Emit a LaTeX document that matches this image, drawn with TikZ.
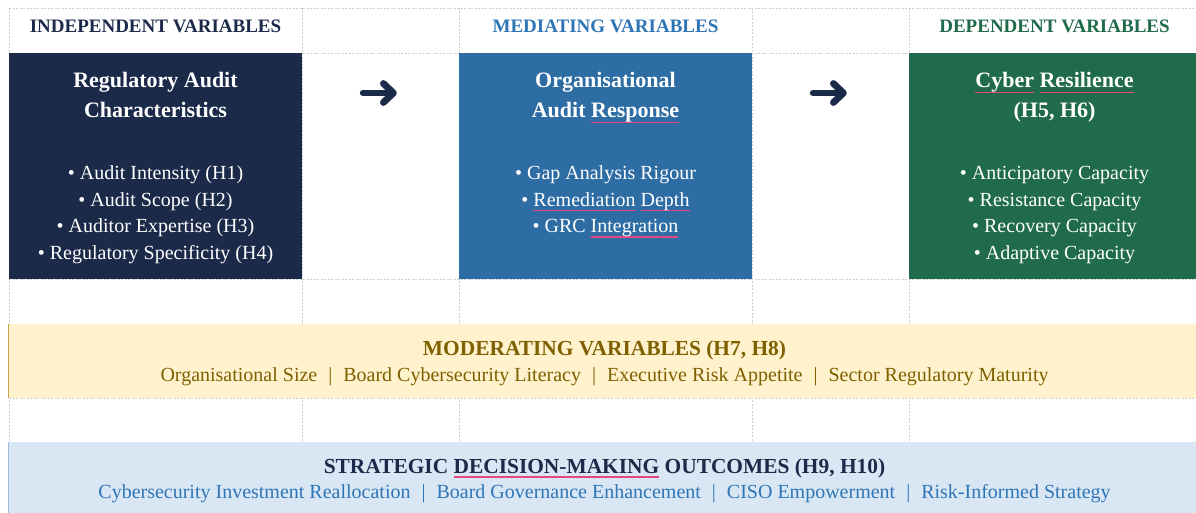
\documentclass[tikz,border=0pt]{standalone}
\usepackage{fontspec}
\setmainfont{Liberation Serif}
\usetikzlibrary{arrows.meta,positioning}

\definecolor{navy}{HTML}{1C2A4A}
\definecolor{medblue}{HTML}{2E6DA4}
\definecolor{depgreen}{HTML}{1F6B4B}
\definecolor{headblue}{HTML}{2E75B6}
\definecolor{modfill}{HTML}{FFF2CC}
\definecolor{modtext}{HTML}{7F6000}
\definecolor{modedge}{HTML}{C9A54A}
\definecolor{outfill}{HTML}{D9E7F5}
\definecolor{outedge}{HTML}{9DBBD9}
\definecolor{gridgray}{HTML}{CFCFCF}
\definecolor{spellpink}{HTML}{E8467C}

% red squiggle under flagged words
\newsavebox\spellbox
\newcommand\spellmark[1]{\sbox\spellbox{#1}%
  \tikz[overlay,baseline=0pt]\fill[spellpink] (0pt,-0.16em) rectangle (\wd\spellbox,-0.23em);%
  \usebox\spellbox}
\newcommand\barsep{\hspace{0.55em}|\hspace{0.55em}}

\tikzset{
  gridline/.style={gridgray, line width=0.7pt, dash pattern=on 2pt off 1.5pt},
  panel/.style={rectangle, inner sep=0pt, minimum height=226pt},
  colhead/.style={anchor=base, font=\fontsize{19}{22}\selectfont\bfseries},
  ptitle/.style={anchor=base, text=white, font=\fontsize{22}{26}\selectfont\bfseries},
  pitem/.style={anchor=base, text=white, font=\fontsize{20}{24}\selectfont},
  band/.style={rectangle, inner sep=0pt, minimum width=1191pt},
  btitle/.style={anchor=base, font=\fontsize{21.4}{24}\selectfont\bfseries},
  bitem/.style={anchor=base, font=\fontsize{20}{24}\selectfont},
  flow/.style={navy, line width=6.8pt, line cap=round, shorten <=61pt, shorten >=62pt,
    -{Straight Barb[round, length=10pt, width=19pt]}},
}

\begin{document}
\begin{tikzpicture}[x=1pt,y=-1pt]
\useasboundingbox (0,0) rectangle (1196,513);

% table rules
\foreach \y in {8,53,279,324,398,442}
  \draw[gridline] (9,\y) -- (1196,\y);
\foreach \x in {9,302,459,752,909}
  \draw[gridline] (\x,8) -- (\x,513);

% column headings
\node[colhead, text=navy] (indhead) at (155.5,33) {INDEPENDENT VARIABLES};
\node[colhead, text=headblue] (medhead) at (605.5,33) {MEDIATING VARIABLES};
\node[colhead, text=depgreen] (dephead) at (1054.5,33) {DEPENDENT VARIABLES};

% the three panels
\node[panel, fill=navy, minimum width=293pt] (ind) at (155.5,166) {};
\node[panel, fill=medblue, minimum width=293pt] (med) at (605.5,166) {};
\node[panel, fill=depgreen, minimum width=291pt] (dep) at (1054.5,166) {};

\node[ptitle] (indT1) at (155.5,88) {Regulatory Audit};
\node[ptitle] (indT2) at (155.5,118) {Characteristics};
\node[ptitle] (medT1) at (605.5,88) {Organisational};
\node[ptitle] (medT2) at (605.5,118) {Audit \spellmark{Response}};
\node[ptitle] (depT1) at (1054.5,88) {\spellmark{Cyber} \spellmark{Resilience}};
\node[ptitle] (depT2) at (1054.5,118) {(H5, H6)};

\foreach \t [count=\i from 0] in {Audit Intensity (H1), Audit Scope (H2),
    Auditor Expertise (H3), Regulatory Specificity (H4)}
  \node[pitem] (ind-\i) at (155.5,180+26.5*\i) {• \t};
\node[pitem] (med-0) at (605.5,180) {• Gap Analysis Rigour};
\node[pitem] (med-1) at (605.5,206.5) {• \spellmark{Remediation} \spellmark{Depth}};
\node[pitem] (med-2) at (605.5,233) {• GRC \spellmark{Integration}};
\foreach \t [count=\i from 0] in {Anticipatory Capacity, Resistance Capacity,
    Recovery Capacity, Adaptive Capacity}
  \node[pitem] (dep-\i) at (1054.5,180+26.5*\i) {• \t};

% arrows between panels
\draw[flow] ([yshift=73pt]ind.east) -- ([yshift=73pt]med.west);
\draw[flow] ([yshift=73pt]med.east) -- ([yshift=73pt]dep.west);

% moderating band
\node[band, fill=modfill, minimum height=74pt] (mod) at (604.5,361) {};
\draw[modedge, line width=1.2pt] (mod.north west) -- (mod.south west);
\node[btitle, text=modtext] (modT) at (604.5,355) {MODERATING VARIABLES (H7, H8)};
\node[bitem, text=modtext] (modL) at (604.5,381.5) {Organisational Size\barsep
  Board Cybersecurity Literacy\barsep Executive Risk Appetite\barsep
  Sector Regulatory Maturity};

% outcomes band
\node[band, fill=outfill, minimum height=80pt] (out) at (604.5,482) {};
\draw[outedge, line width=1.2pt] (out.north west) -- (out.south west);
\node[btitle, text=navy] (outT) at (604.5,473) {STRATEGIC \spellmark{DECISION-MAKING} OUTCOMES (H9, H10)};
\node[bitem, text=headblue] (outL) at (604.5,498) {Cybersecurity Investment Reallocation\barsep
  Board Governance Enhancement\barsep CISO Empowerment\barsep
  Risk-Informed Strategy};
\end{tikzpicture}
\end{document}
